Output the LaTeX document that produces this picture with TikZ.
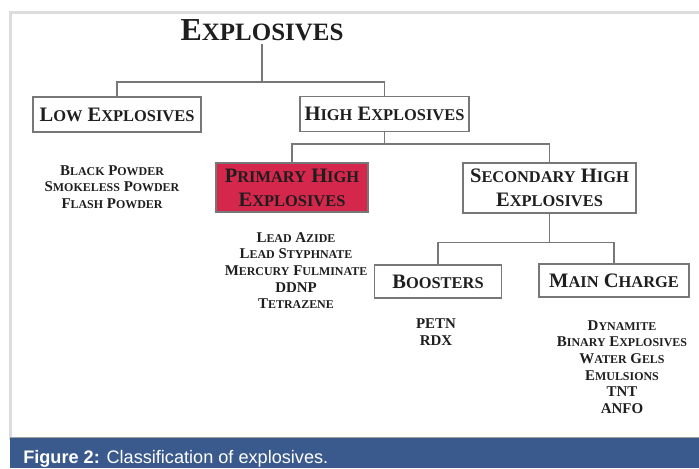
\documentclass[tikz,border=0pt]{standalone}
\usepackage{fontspec}
\setmainfont{Liberation Serif}
\newfontfamily\capfont{Liberation Sans}
\newcommand\Kp[2]{#1\scalebox{0.78}{#2}}
\newcommand\Kq[2]{#1\scalebox{0.8}{#2}}
\definecolor{boxred}{HTML}{D5264B}
\definecolor{capblue}{HTML}{3A598C}
\definecolor{framegray}{HTML}{DCDCDC}
\definecolor{linegray}{HTML}{777777}
\definecolor{inkc}{HTML}{1E1E1E}
\tikzset{
  box/.style={draw=linegray, line width=0.9pt, inner sep=0pt, align=center, text=inkc,
    font=\bfseries\fontsize{15.4pt}{17pt}\selectfont},
  lst/.style={align=center, text=inkc, inner sep=0pt,
    font=\bfseries\fontsize{11.2pt}{12.45pt}\selectfont},
  conn/.style={draw=linegray, line width=0.8pt},
}
\begin{document}
\begin{tikzpicture}[x=0.75pt,y=-0.75pt]
\useasboundingbox (0,0) rectangle (699,468);
% frame and caption
\draw[framegray, line width=1.6pt] (10.5,440) -- (10.5,12.5) -- (705,12.5);
\fill[capblue] (10,437.5) rectangle (699,468);
\draw[linegray!70, line width=0.6pt] (10,437.5) -- (699,437.5);
\node[anchor=base west, inner sep=0pt, text=white, font=\capfont\fontsize{13.6pt}{15pt}\selectfont] (cap) at (23,463) {\textbf{Figure 2:} Classification of explosives.};
% title
\node[text=inkc, inner sep=0pt, font=\bfseries\fontsize{24pt}{26pt}\selectfont, anchor=base] (title) at (262,40) {\Kp{E}{XPLOSIVES}};
% boxes
\node[box, minimum width=168*0.75pt, minimum height=35*0.75pt] (low) at (117,114.5) {\Kq{L}{OW} \Kq{E}{XPLOSIVES}};
\node[box, minimum width=169*0.75pt, minimum height=35*0.75pt] (high) at (384.5,113.8) {\Kq{H}{IGH} \Kq{E}{XPLOSIVES}};
\node[box, fill=boxred, minimum width=152*0.75pt, minimum height=49*0.75pt] (prim) at (292,187.5) {\Kq{P}{RIMARY} \Kq{H}{IGH}\\[1pt] \Kq{E}{XPLOSIVES}};
\node[box, minimum width=173*0.75pt, minimum height=50*0.75pt] (sec) at (549.5,188) {\Kq{S}{ECONDARY} \Kq{H}{IGH}\\[1pt] \Kq{E}{XPLOSIVES}};
\node[box, minimum width=127*0.75pt, minimum height=33*0.75pt] (boost) at (438,281.5) {\Kq{B}{OOSTERS}};
\node[box, minimum width=150*0.75pt, minimum height=33*0.75pt] (main) at (614,280.5) {\Kq{M}{AIN} \Kq{C}{HARGE}};
% lists
\node[lst] (lowl) at (112,187) {\Kq{B}{LACK} \Kq{P}{OWDER}\\ \Kq{S}{MOKELESS} \Kq{P}{OWDER}\\ \Kq{F}{LASH} \Kq{P}{OWDER}};
\node[lst] (priml) at (296,270.5) {\Kq{L}{EAD} \Kq{A}{ZIDE}\\ \Kq{L}{EAD} \Kq{S}{TYPHNATE}\\ \Kq{M}{ERCURY} \Kq{F}{ULMINATE}\\ DDNP\\ \Kq{T}{ETRAZENE}};
\node[lst] (boostl) at (436,332) {PETN\\ RDX};
\node[lst] (mainl) at (622,367) {\Kq{D}{YNAMITE}\\ \Kq{B}{INARY} \Kq{E}{XPLOSIVES}\\ \Kq{W}{ATER} \Kq{G}{ELS}\\ \Kq{E}{MULSIONS}\\ TNT\\ ANFO};
% connectors
\coordinate (j1) at (262,82);
\coordinate (j2) at (high.south |- 0,144);
\coordinate (j3) at (sec.south |- 0,242.5);
\draw[conn] (title.south |- 0,44) -- (j1);
\draw[conn] (j1) -| (low.north);
\draw[conn] (j1) -| (high.north);
\draw[conn] (high.south) -- (j2);
\draw[conn] (j2) -| (prim.north);
\draw[conn] (j2) -| (sec.north);
\draw[conn] (sec.south) -- (j3);
\draw[conn] (j3) -| (boost.north);
\draw[conn] (j3) -| (main.north);
\end{tikzpicture}
\end{document}
